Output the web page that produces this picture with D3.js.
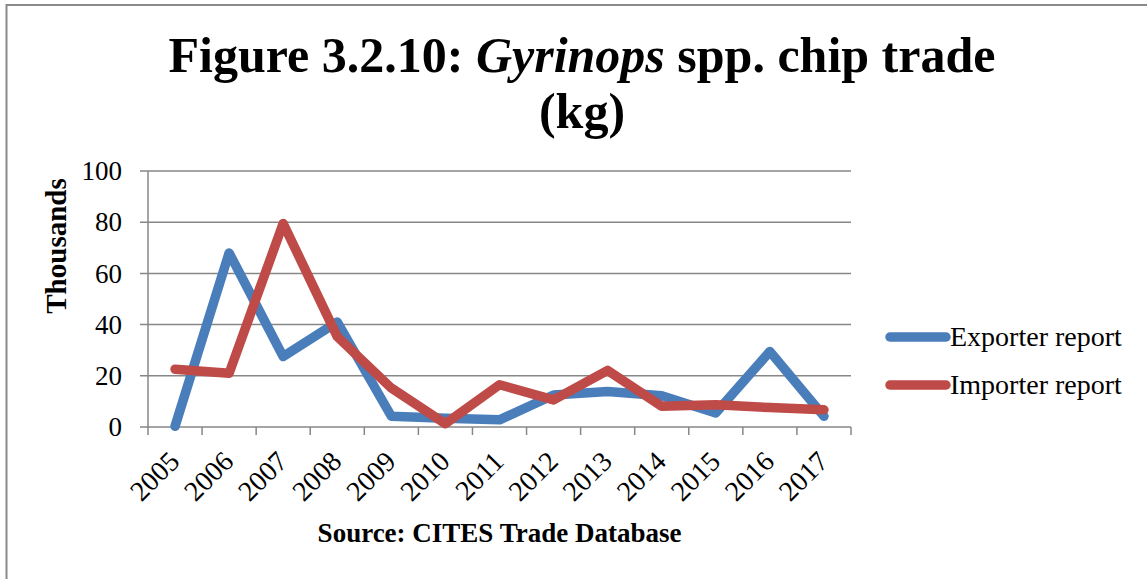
<!DOCTYPE html>
<html>
<head>
<meta charset="utf-8">
<script src="https://cdn.jsdelivr.net/npm/d3@7"></script>
<style>
  body { margin: 0; background: #fff; }
  svg { display: block; font-family: "Liberation Serif", "DejaVu Serif", serif; }
</style>
</head>
<body>
<svg id="chart" width="1147" height="579"></svg>
<script>
// values in thousands of kg
const years = ["2005", "2006", "2007", "2008", "2009", "2010", "2011", "2012", "2013", "2014", "2015", "2016", "2017"];
const exporterReport = [0.3, 68, 27.5, 41, 4.2, 3.4, 2.8, 12.5, 13.9, 12.2, 5.5, 29.5, 4.2];
const importerReport = [22.6, 21, 79.5, 35.3, 15.2, 1.3, 16.5, 10.6, 22.1, 8.1, 8.7, 7.6, 6.7];
const yTicks = [0, 20, 40, 60, 80, 100];
const seriesNames = ["Exporter report", "Importer report"];
const seriesColors = ["#4a7ebb", "#be4b48"];

const margin = { top: 171, right: 296, bottom: 152, left: 148 };
const width = 1147 - margin.left - margin.right,
    height = 579 - margin.top - margin.bottom;

const svg = d3.select("#chart");

// outer frame (only top and left visible in the crop)
svg.append("path")
    .attr("d", "M6.5,579V5H1147")
    .attr("fill", "none")
    .attr("stroke", "#8a8a8a")
    .attr("stroke-width", 2);

// title
const title = svg.append("text")
    .attr("x", 582)
    .attr("y", 72)
    .attr("text-anchor", "middle")
    .style("font-size", "50px")
    .style("font-weight", "bold")
    .style("fill", "#000");
title.append("tspan").text("Figure 3.2.10: ");
title.append("tspan").style("font-style", "italic").text("Gyrinops");
title.append("tspan").text(" spp. chip trade");
svg.append("text")
    .attr("x", 582)
    .attr("y", 128)
    .attr("text-anchor", "middle")
    .style("font-size", "50px")
    .style("font-weight", "bold")
    .text("(kg)");

const g = svg.append("g")
    .attr("transform", `translate(${margin.left},${margin.top})`);

let x = d3.scaleBand()
    .domain(years)
    .range([0, width]);
let y = d3.scaleLinear()
    .domain([0, 100])
    .range([height, 0]);

// gridlines
g.selectAll(".grid")
    .data(yTicks)
    .join("line")
    .attr("class", "grid")
    .attr("x1", -8)
    .attr("x2", width)
    .attr("y1", d => y(d))
    .attr("y2", d => y(d))
    .attr("stroke", "#878787")
    .attr("stroke-width", 1.5);

// y axis line
g.append("line")
    .attr("x1", 0).attr("x2", 0)
    .attr("y1", 0).attr("y2", height)
    .attr("stroke", "#878787")
    .attr("stroke-width", 1.5);

// x tick marks at the band edges
const edges = years.map(d => x(d)).concat([x.range()[1]]);
g.selectAll(".xtick")
    .data(edges)
    .join("line")
    .attr("class", "xtick")
    .attr("x1", d => d).attr("x2", d => d)
    .attr("y1", height).attr("y2", height + 8)
    .attr("stroke", "#878787")
    .attr("stroke-width", 1.5);

// y tick labels
g.selectAll(".ylabel")
    .data(yTicks)
    .join("text")
    .attr("class", "ylabel")
    .attr("x", -26)
    .attr("y", d => y(d))
    .attr("dy", "0.34em")
    .attr("text-anchor", "end")
    .style("font-size", "27px")
    .text(d => d);

// x tick labels, rotated
g.selectAll(".xlabel")
    .data(years)
    .join("text")
    .attr("class", "xlabel")
    .attr("transform", d => `translate(${x(d) + x.bandwidth() / 2 + 6},${height + 36}) rotate(-45)`)
    .attr("text-anchor", "end")
    .style("font-size", "28px")
    .text(d => d);

// y axis title
svg.append("text")
    .attr("transform", `translate(66,${246}) rotate(-90)`)
    .attr("text-anchor", "middle")
    .style("font-size", "29px")
    .style("font-weight", "bold")
    .text("Thousands");

// x axis title
svg.append("text")
    .attr("x", margin.left + width / 2)
    .attr("y", 542)
    .attr("text-anchor", "middle")
    .style("font-size", "27px")
    .style("font-weight", "bold")
    .text("Source: CITES Trade Database");

// lines
const line = d3.line()
    .x((d, i) => x(years[i]) + x.bandwidth() / 2)
    .y(d => y(d));

[exporterReport, importerReport].forEach((s, k) => {
    g.append("path")
        .datum(s)
        .attr("d", line)
        .attr("fill", "none")
        .attr("stroke", seriesColors[k])
        .attr("stroke-width", 9.5)
        .attr("stroke-linejoin", "round")
        .attr("stroke-linecap", "round");
});

// legend
const legend = svg.append("g")
    .attr("transform", "translate(888,337)");
const item = legend.selectAll("g")
    .data(seriesNames)
    .join("g")
    .attr("transform", (d, i) => `translate(0,${i * 48})`);
item.append("line")
    .attr("x1", 2).attr("x2", 58)
    .attr("y1", 0).attr("y2", 0)
    .attr("stroke", (d, i) => seriesColors[i])
    .attr("stroke-width", 9.5)
    .attr("stroke-linecap", "round");
item.append("text")
    .attr("x", 62)
    .attr("y", 0)
    .attr("dy", "0.32em")
    .style("font-size", "28px")
    .text(d => d);
</script>
</body>
</html>
